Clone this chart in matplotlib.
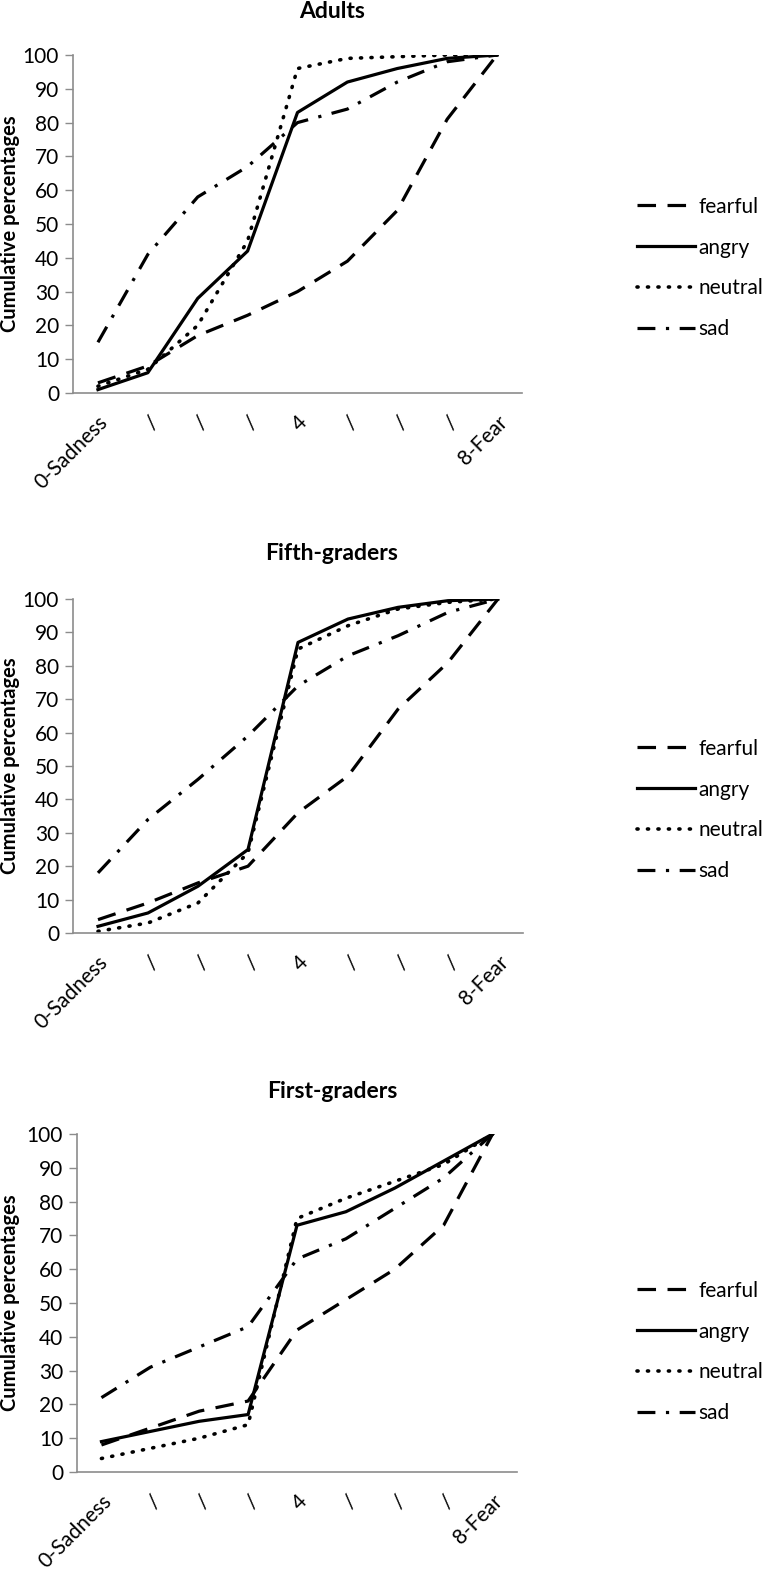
import matplotlib
matplotlib.use("Agg")
import matplotlib.pyplot as plt

plt.rcParams['font.family'] = ['Lato', 'DejaVu Sans']

categories = ['0-Sadness', '/', '/', '/', '4', '/', '/', '/', '8-Fear']
series_names = ['fearful', 'angry', 'neutral', 'sad']

adults_fearful = [3, 8, 17, 23, 30, 39, 54, 81, 100]
adults_angry = [1, 6, 28, 42, 83, 92, 96, 99, 100]
adults_neutral = [2, 7, 20, 45, 96, 99, 99.5, 100, 100]
adults_sad = [15, 41, 58, 67, 80, 84, 92, 98, 100]

fifth_fearful = [4, 9, 15, 20, 36, 47, 67, 81, 100]
fifth_angry = [2, 6, 14, 25, 87, 94, 97.5, 99.5, 100]
fifth_neutral = [0.5, 3, 9, 24, 85, 92, 97, 99, 100]
fifth_sad = [18, 34, 46, 59, 74, 83, 89, 96, 100]

first_fearful = [8, 13, 18, 21, 42, 51, 60, 73, 100]
first_angry = [9, 12, 15, 17, 73, 77, 84, 92, 100]
first_neutral = [4, 7, 10, 14, 75, 81, 86, 91, 100]
first_sad = [22, 31, 37, 43, 63, 69, 78, 87, 100]

titles = ['Adults', 'Fifth-graders', 'First-graders']
panels = [
    [adults_fearful, adults_angry, adults_neutral, adults_sad],
    [fifth_fearful, fifth_angry, fifth_neutral, fifth_sad],
    [first_fearful, first_angry, first_neutral, first_sad],
]

W, H = 770, 1573
fig = plt.figure(figsize=(W / 100, H / 100), dpi=100)

# pixel layout: (left, right, y_of_0, y_of_100, title_y, legend_center_y)
layout = [
    (73, 522, 393, 55, 11, 268),
    (73, 523, 933, 599, 553, 810),
    (77, 517, 1472, 1134, 1092, 1352),
]

LW = 2.3
styles = {
    'fearful': dict(linestyle=(0, (5.8, 3.6))),
    'angry': dict(linestyle='-'),
    'neutral': dict(linestyle=(0, (0.3, 2.6)), dash_capstyle='round', lw=2.6),
    'sad': dict(linestyle=(0, (5.6, 3.3, 1.0, 3.3))),
}
gray = '#8c8c8c'

x = list(range(len(categories)))
for (l, r, y0, y1, ty, ly), title, data in zip(layout, titles, panels):
    ax = fig.add_axes([l / W, 1 - y0 / H, (r - l) / W, (y0 - y1) / H])
    for name, vals in zip(series_names, data):
        kw = dict(styles[name])
        lw = kw.pop('lw', LW)
        ax.plot(x, vals, color='black', lw=lw, label=name, **kw)
    ax.set_xlim(-0.5, len(categories) - 0.5)
    ax.set_ylim(0, 100)
    ax.set_yticks(range(0, 101, 10))
    ax.set_xticks(x)
    ax.set_xticklabels(categories, rotation=45, ha='right', va='top',
                       rotation_mode='anchor', fontsize=15)
    ax.tick_params(axis='y', labelsize=15, length=6, width=1, color=gray, pad=4)
    ax.tick_params(axis='x', length=0, pad=14)
    for s in ['top', 'right']:
        ax.spines[s].set_visible(False)
    for s in ['left', 'bottom']:
        ax.spines[s].set_color(gray)
        ax.spines[s].set_linewidth(1.2)
    ax.set_ylabel('Cumulative percentages', fontsize=14.5, fontweight='bold')
    ax.yaxis.set_label_coords((20 - l) / (r - l), 0.5)
    fig.text(332 / W, 1 - ty / H, title, ha='center', va='center',
             fontsize=16.5, fontweight='bold')
    ax.legend(loc='center left', bbox_to_anchor=(637 / W, 1 - ly / H),
              bbox_transform=fig.transFigure, frameon=False, fontsize=15,
              handlelength=2.8, handletextpad=0.15, labelspacing=1.0,
              borderpad=0, borderaxespad=0)

fig.savefig('out.png', dpi=100)
